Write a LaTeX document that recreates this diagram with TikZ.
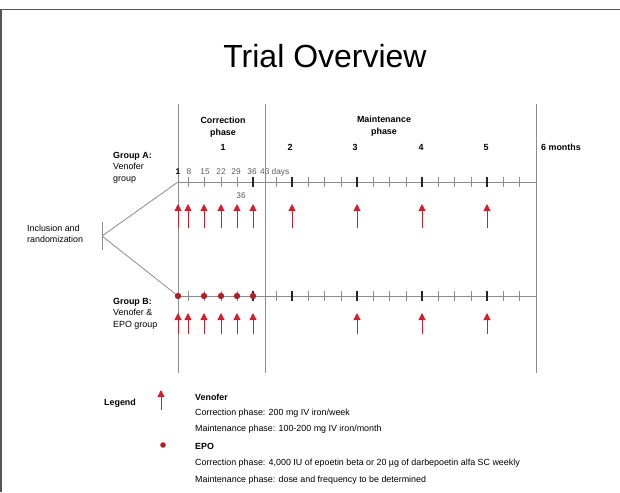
\documentclass[tikz,border=0pt]{standalone}
\usepackage{fontspec}
\setmainfont{Liberation Sans}
\usetikzlibrary{arrows.meta}
\definecolor{venred}{RGB}{208,32,46}
\definecolor{epored}{RGB}{180,30,38}
\definecolor{axisgray}{RGB}{140,140,140}
\definecolor{framegray}{RGB}{85,85,85}
\definecolor{daygray}{RGB}{90,90,90}

\begin{document}
\begin{tikzpicture}[x=1pt, y=-1pt,
  txt/.style={font=\fontsize{8.9}{11.5}\selectfont, inner sep=0pt, align=left},
  btxt/.style={font=\fontsize{8.9}{11.5}\selectfont\bfseries, inner sep=0pt, align=center},
  daylbl/.style={font=\fontsize{8.3}{10}\selectfont, inner sep=0pt, text=daygray},
  axis/.style={axisgray, line width=0.8pt},
  minortick/.style={axisgray, line width=0.6pt},
  majortick/.style={black!85, line width=1.3pt},
  venofer/.style={venred, line width=1pt, -{Triangle[width=7pt,length=7pt]}},
  epo/.style={fill=epored, draw=none}]
  \useasboundingbox (0,0) rectangle (620,492);
  \draw[framegray, line width=1.5pt] (1,492) -- (1,9.5) -- (620,9.5);

  % title and phase headings
  \node[font=\fontsize{32}{36}\selectfont] (title) at (325,56) {Trial Overview};
  \node[btxt] (corr) at (223,127) {Correction\\phase};
  \node[btxt] (maint) at (384,126) {Maintenance\\phase};
  \node[btxt] (m1) at (223,147) {1};
  \node[btxt] (m2) at (290,147) {2};
  \node[btxt] (m3) at (355,147) {3};
  \node[btxt] (m4) at (421,147) {4};
  \node[btxt] (m5) at (486,147) {5};
  \node[btxt, anchor=west] (m6) at (541,147) {6 months};

  % phase borders
  \draw[axis] (178,104) -- (178,373);
  \draw[axis] (265,104) -- (265,373);
  \draw[axis] (536,104) -- (536,373);

  % groups and randomization
  \coordinate (split) at (102,236);
  \coordinate (startA) at (178,182);
  \coordinate (startB) at (178,296);
  \coordinate (endA) at (536,182);
  \coordinate (endB) at (536,296);
  \node[txt, anchor=west] (incl) at (27,234) {Inclusion and\\randomization};
  \node[txt, anchor=north west] (grpA) at (113,152) {\textbf{Group A:}\\Venofer\\group};
  \node[txt, anchor=north west] (grpB) at (113,298) {\textbf{Group B:}\\Venofer \&\\EPO group};
  \draw[axis] (102,222) -- (102,250);
  \draw[axis] (split) -- (startA);
  \draw[axis] (split) -- (startB);
  \draw[axis] (startA) -- (endA);
  \draw[axis] (startB) -- (endB);

  % ticks
  \foreach \x in {188,204,221,237,276,308,324,341,373,389,406,438,454,471,503,519} {
    \draw[minortick] (\x,177) -- (\x,187);
    \draw[minortick] (\x,291) -- (\x,301);
  }
  \foreach \x in {253,292,357,422,487} {
    \draw[majortick] (\x,177) -- (\x,187);
    \draw[majortick] (\x,291) -- (\x,301);
  }

  % days
  \node[daylbl, font=\fontsize{8.3}{10}\selectfont\bfseries, text=black] (d1) at (178,172) {1};
  \node[daylbl] (d8) at (189,172) {8};
  \node[daylbl] (d15) at (205,172) {15};
  \node[daylbl] (d22) at (221,172) {22};
  \node[daylbl] (d29) at (236,172) {29};
  \node[daylbl] (d36) at (252,172) {36};
  \node[daylbl, anchor=west] (d43) at (260,172) {43 days};
  \node[daylbl] (d36b) at (241,196) {36};

  % Venofer doses
  \foreach \x in {178,188,204,221,237,253,292,357,422,487}
    \draw[venofer] (\x,228) -- (\x,204);
  \foreach \x in {178,188,204,221,237,253,357,422,487}
    \draw[venofer] (\x,334) -- (\x,313);

  % EPO doses
  \foreach \x in {178,204,221,237,253}
    \fill[epo] (\x,296) circle (3.2);

  % legend
  \node[txt, font=\fontsize{8.9}{11.5}\selectfont\bfseries, anchor=west] (leg) at (104,403) {Legend};
  \draw[venofer] (161,410) -- (161,390);
  \fill[epo] (163,445) circle (2.8);
  \node[txt, font=\fontsize{8.9}{11.5}\selectfont\bfseries, anchor=west] (legV) at (195,397) {Venofer};
  \node[txt, anchor=west] (legV1) at (195,413) {Correction phase: 200 mg IV iron/week};
  \node[txt, anchor=west] (legV2) at (195,429) {Maintenance phase: 100-200 mg IV iron/month};
  \node[txt, font=\fontsize{8.9}{11.5}\selectfont\bfseries, anchor=west] (legE) at (195,446) {EPO};
  \node[txt, anchor=west] (legE1) at (195,463) {Correction phase: 4,000 IU of epoetin beta or 20 µg of darbepoetin alfa SC weekly};
  \node[txt, anchor=west] (legE2) at (195,480) {Maintenance phase: dose and frequency to be determined};
\end{tikzpicture}
\end{document}
